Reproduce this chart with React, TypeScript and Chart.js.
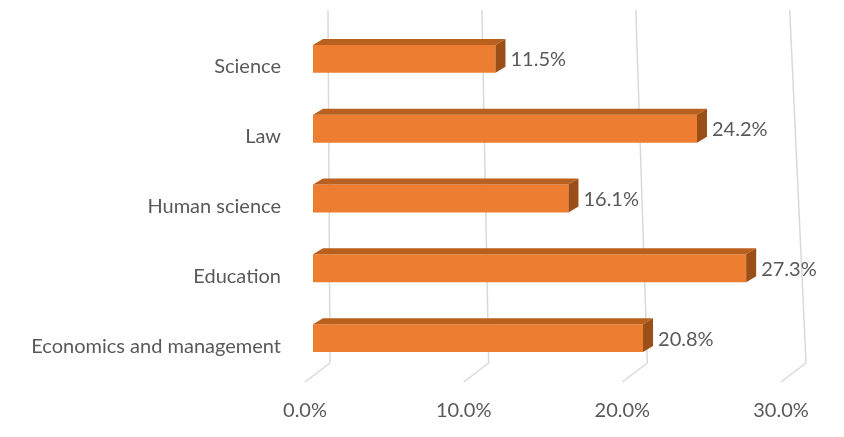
import React, { useEffect, useRef } from "react";
import { Chart, registerables } from "chart.js";

Chart.register(...registerables);

const categories = ["Science", "Law", "Human science", "Education", "Economics and management"];
const values = [11.5, 24.2, 16.1, 27.3, 20.8];
const tickValues = [0, 10, 20, 30];

const FRONT = "#ED7D31";
const TOP = "#B9601F";
const SIDE = "#9C4E17";
const GRID = "#D9D9D9";
const TEXT = "#595959";
const FONT = "Lato, 'Open Sans', sans-serif";
const FONT_SIZE = 20;

const depthX = 10;
const depthY = 6;

const threeD = {
  id: "threeD",
  beforeDatasetsDraw(chart: any) {
    const ctx = chart.ctx;
    const xs = chart.scales.x;
    const area = chart.chartArea;
    ctx.save();
    ctx.strokeStyle = GRID;
    ctx.lineWidth = 1.5;
    const backBottom = area.bottom - 10;
    for (const v of tickValues) {
      const px = xs.getPixelForValue(v);
      const topX = area.left + 15 + (px - area.left) * 0.97;
      const botX = px + 17;
      ctx.beginPath();
      ctx.moveTo(topX, 10);
      ctx.lineTo(botX, backBottom);
      ctx.lineTo(px - 8, backBottom + 19);
      ctx.stroke();
    }
    ctx.restore();
  },
  afterDatasetsDraw(chart: any) {
    const ctx = chart.ctx;
    const meta = chart.getDatasetMeta(0);
    ctx.save();
    meta.data.forEach((bar: any, i: number) => {
      const { x, y, base, height } = bar.getProps(["x", "y", "base", "height"], true);
      const top = y - height / 2;
      const bottom = y + height / 2;
      ctx.fillStyle = TOP;
      ctx.beginPath();
      ctx.moveTo(base, top);
      ctx.lineTo(base + depthX, top - depthY);
      ctx.lineTo(x + depthX, top - depthY);
      ctx.lineTo(x, top);
      ctx.closePath();
      ctx.fill();
      ctx.fillStyle = SIDE;
      ctx.beginPath();
      ctx.moveTo(x, top);
      ctx.lineTo(x + depthX, top - depthY);
      ctx.lineTo(x + depthX, bottom - depthY);
      ctx.lineTo(x, bottom);
      ctx.closePath();
      ctx.fill();
      ctx.fillStyle = TEXT;
      ctx.font = `${FONT_SIZE}px ${FONT}`;
      ctx.textAlign = "left";
      ctx.textBaseline = "middle";
      ctx.fillText(values[i].toFixed(1) + "%", x + depthX + 5, y + 1);
    });
    ctx.restore();
  },
};

export default function App() {
  const ref = useRef<HTMLCanvasElement>(null);
  useEffect(() => {
    document.body.style.margin = "0";
    const chart = new Chart(ref.current!, {
      type: "bar",
      data: {
        labels: categories,
        datasets: [
          {
            data: values,
            backgroundColor: FRONT,
            borderWidth: 0,
            barPercentage: 0.4,
            categoryPercentage: 1,
          },
        ],
      },
      options: {
        indexAxis: "y",
        animation: false,
        responsive: false,
        maintainAspectRatio: false,
        layout: { padding: { top: 24, right: 55, left: 0, bottom: 0 } },
        plugins: { legend: { display: false }, tooltip: { enabled: false } },
        scales: {
          x: {
            min: 0,
            max: 30,
            grid: { display: false, drawTicks: false },
            border: { display: false },
            ticks: {
              stepSize: 10,
              padding: 26,
              labelOffset: -8,
              color: TEXT,
              font: { family: FONT, size: FONT_SIZE },
              callback: (v: any) => Number(v).toFixed(1) + "%",
            },
            afterFit: (s: any) => {
              s.height = 64;
              s.paddingLeft = 0;
              s.paddingRight = 0;
            },
          },
          y: {
            grid: { display: false, drawTicks: false },
            border: { display: false },
            ticks: {
              padding: 32,
              labelOffset: 8,
              color: TEXT,
              font: { family: FONT, size: FONT_SIZE },
            },
            afterFit: (s: any) => {
              s.width = 313;
              s.paddingTop = 0;
              s.paddingBottom = 0;
            },
          },
        },
      },
      plugins: [threeD],
    });
    return () => chart.destroy();
  }, []);
  return <canvas ref={ref} width={844} height={437} style={{ display: "block" }} />;
}
